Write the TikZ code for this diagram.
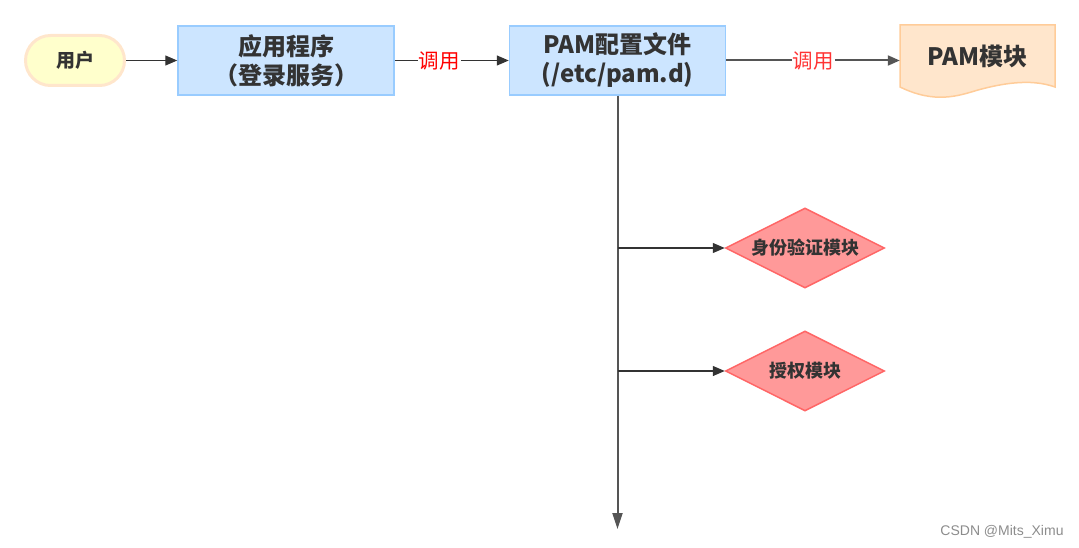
\documentclass[tikz,border=0pt]{standalone}
\usepackage{fontspec}
\newfontfamily\cjk{Noto Sans CJK SC}
\newfontfamily\wmfont{Liberation Sans}
\usetikzlibrary{shapes.geometric,arrows.meta}
\definecolor{txt}{HTML}{333333}
\definecolor{boxfill}{HTML}{CCE5FF}
\definecolor{boxline}{HTML}{99CCFF}
\definecolor{userfill}{HTML}{FFFFCC}
\definecolor{userline}{HTML}{FFE6CC}
\definecolor{docfill}{HTML}{FFE6CC}
\definecolor{docline}{HTML}{FFCC99}
\definecolor{diamfill}{HTML}{FF9999}
\definecolor{diamline}{HTML}{FF6666}
\definecolor{trunkgray}{HTML}{555555}
\tikzset{
  user/.style={draw=userline,fill=userfill,line width=3pt,rounded corners=25pt,
    minimum width=99pt,minimum height=50pt,text=txt,font=\cjk\bfseries\fontsize{19}{22}\selectfont},
  box/.style={draw=boxline,fill=boxfill,line width=1.5pt,minimum width=216pt,minimum height=69pt,
    text=txt,align=center,font=\cjk\bfseries\fontsize{24}{29}\selectfont},
  modtext/.style={minimum width=155pt,minimum height=62pt,text=txt,font=\cjk\bfseries\fontsize{24}{28}\selectfont},
  diam/.style={shape=diamond,draw=diamline,fill=diamfill,line width=1.5pt,aspect=2,inner sep=0pt,
    minimum width=159pt,minimum height=80pt,text=txt,font=\cjk\bfseries\fontsize{18}{21}\selectfont},
  call/.style={fill=white,inner sep=1pt,text=red,font=\cjk\fontsize{20.5}{24}\selectfont},
  link/.style={draw=txt,line width=1.3pt},
  trunk/.style={draw=trunkgray,line width=2pt},
  watermark/.style={text=black!45,font=\wmfont\fontsize{14}{16}\selectfont}
}
\begin{document}
\begin{tikzpicture}[x=1pt,y=-1pt,>={Triangle[length=12pt,width=10pt]}]
  \useasboundingbox (0,0) rectangle (1079,548);
  % document shape behind the PAM module text
  \filldraw[draw=docline,fill=docfill,line width=1.5pt]
    (900,25) -- (1055,25) -- (1055,87)
    .. controls (1030,78) and (1000,84) .. (978,90)
    .. controls (958,96) and (935,104) .. (900,87) -- cycle;
  \node[user] (user) at (75,60.5) {用户};
  \node[box] (app) at (286,60.5) {应用程序\\（登录服务）};
  \node[box] (conf) at (617.5,60.5) {PAM配置文件\\(/etc/pam.d)};
  \node[modtext] (pam) at (977.5,56) {PAM模块};
  \node[diam] (auth) at (805,248) {身份验证模块};
  \node[diam] (authz) at (805,371) {授权模块};
  \coordinate (bottom) at (617.5,529);
  \path[->]
    (user) edge[link] (app)
    (app) edge[link] node[call,pos=0.39] {调用} (conf)
    (conf.east) edge[trunk] node[call,pos=0.5,text=red!80] {调用} (conf.east -| pam.west)
    (conf.south) edge[trunk,-{Triangle[length=16pt,width=10pt]}] (bottom)
    (conf.south |- auth.west) edge[link] (auth.west)
    (conf.south |- authz.west) edge[link] (authz.west);
  \node[watermark] (wm) at (1002,532) {CSDN @Mits\_Ximu};
\end{tikzpicture}
\end{document}
